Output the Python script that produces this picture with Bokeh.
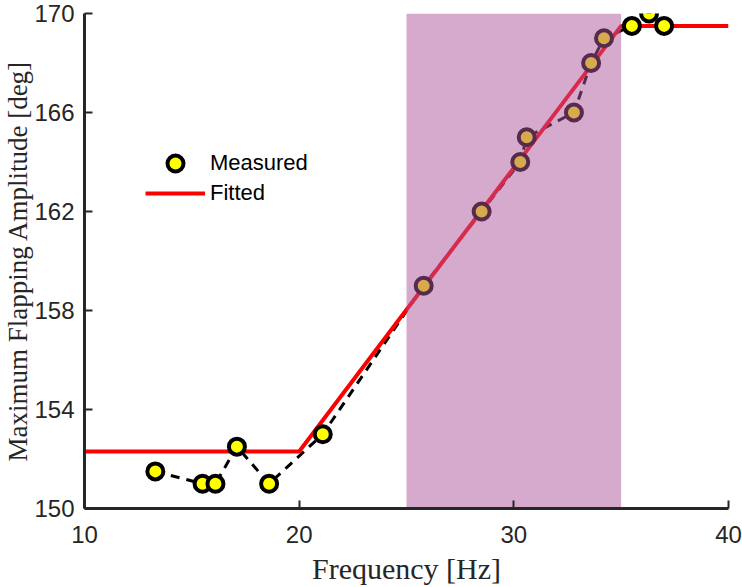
from bokeh.plotting import figure
from bokeh.models import FixedTicker, Legend, LegendItem
from bokeh.embed import file_html
from bokeh.resources import INLINE

# Measured maximum flapping amplitude versus driving frequency
freq = [13.3, 15.5, 16.1, 17.1, 18.6, 21.1, 25.8, 28.5, 30.3, 30.6, 32.8, 33.6, 34.2, 35.5, 36.3, 37.0]
amp = [151.5, 151.0, 151.0, 152.5, 151.0, 153.0, 159.0, 162.0, 164.0, 165.0, 166.0, 168.0, 169.0, 169.5, 170.0, 169.5]

# Piecewise-linear fit: plateau, linear rise, saturation
fit_freq = [10, 20, 35, 40]
fit_amp = [152.3, 152.3, 169.5, 169.5]

# Highlighted frequency band
band_lo, band_hi = 25, 35

x_ticks = [10, 20, 30, 40]
y_ticks = [150, 154, 158, 162, 166, 170]

AXIS_COLOR = "#262626"

p = figure(width=742, height=587, x_range=(10, 40), y_range=(150, 170),
           output_backend="svg", toolbar_location=None,
           min_border_left=84, min_border_right=14, min_border_top=13, min_border_bottom=79)
p.outline_line_color = None
p.grid.visible = False
p.background_fill_color = "white"

dash = p.line(freq, amp, line_color="black", line_width=3, line_dash="9 7")
fit = p.line(fit_freq, fit_amp, line_color="#ff0000", line_width=4)
pts = p.scatter(freq, amp, size=16, fill_color="#ffff00", line_color="black", line_width=4)

# Shaded band laid over the data
p.quad(left=[band_lo], right=[band_hi], bottom=[150], top=[170],
       fill_color="#ad5599", fill_alpha=0.5, line_color=None)

for ax in (p.xaxis[0], p.yaxis[0]):
    ax.axis_line_color = AXIS_COLOR
    ax.axis_line_width = 3
    ax.major_tick_line_color = AXIS_COLOR
    ax.major_tick_line_width = 2
    ax.major_tick_in = 8
    ax.major_tick_out = 0
    ax.minor_tick_line_color = None
    ax.major_label_text_font = "Liberation Sans"
    ax.major_label_text_font_size = "24px"
    ax.major_label_text_color = AXIS_COLOR
    ax.axis_label_text_font = "Liberation Serif"
    ax.axis_label_text_font_style = "normal"
    ax.axis_label_text_color = AXIS_COLOR

p.xaxis.ticker = FixedTicker(ticks=x_ticks)
p.yaxis.ticker = FixedTicker(ticks=y_ticks)
p.xaxis.axis_label = "Frequency [Hz]"
p.yaxis.axis_label = "Maximum Flapping Amplitude [deg]"
p.xaxis.axis_label_text_font_size = "30px"
p.yaxis.axis_label_text_font_size = "27px"
p.xaxis.major_label_standoff = 17
p.yaxis.major_label_standoff = 10
p.xaxis.axis_label_standoff = 6
p.yaxis.axis_label_standoff = -2

legend_style = dict(orientation="vertical", glyph_width=60, glyph_height=40, label_height=40,
                    label_standoff=5, padding=0, margin=0,
                    border_line_color=None, background_fill_alpha=0,
                    label_text_font="Liberation Sans", label_text_font_size="22px",
                    label_text_color="black")
p.add_layout(Legend(items=[LegendItem(label="Measured", renderers=[pts])],
                    location=(61, 325), **legend_style), "center")
p.add_layout(Legend(items=[LegendItem(label="Fitted", renderers=[fit])],
                    location=(61, 295), **legend_style), "center")

open("out.html", "w").write(file_html(p, INLINE))
